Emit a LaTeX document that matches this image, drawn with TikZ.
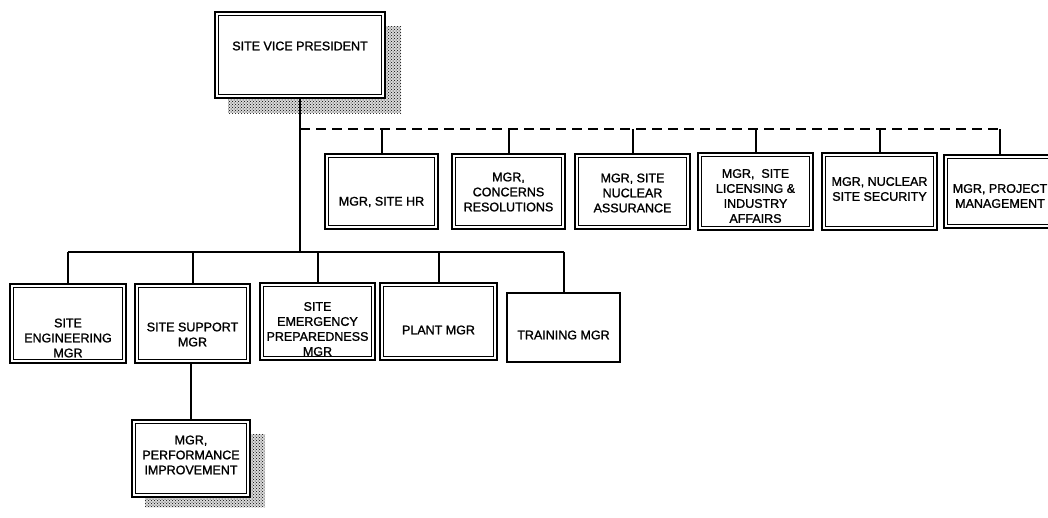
\documentclass[tikz,border=0pt]{standalone}
\usepackage{fontspec}
\setmainfont{Liberation Sans}[FakeBold=1.3]
\usetikzlibrary{patterns}
\tikzset{
  frame/.style 2 args={draw, line width=2.2pt, fill=white, shape=rectangle,
    inner sep=0pt, outer sep=0pt, minimum width=#1, minimum height=#2},
  lbl/.style={align=center, inner sep=0pt,
    font=\fontsize{12.5}{15}\selectfont},
  link/.style={line width=2pt},
  dotted link/.style={line width=2pt, dash pattern=on 10pt off 6pt},
  shade/.style={pattern=crosshatch dots, pattern color=black},
}
\begin{document}
\begin{tikzpicture}[x=1pt, y=-1pt]
\useasboundingbox (0,0) rectangle (1048,517);

% drop shadows
\fill[black!15] (228,26) rectangle (401,113);
\fill[shade] (228,26) rectangle (401,113);
\fill[black!15] (145,434) rectangle (265,507);
\fill[shade] (145,434) rectangle (265,507);

% head of the site
\node[frame={170pt}{86pt}] (vp) at (300,55) {};

% staff reporting on the dashed line
\node[frame={113pt}{75pt}] (hr)  at (381.5,191.5) {};
\node[frame={113pt}{75pt}] (cr)  at (508.5,191.5) {};
\node[frame={115pt}{75pt}] (na)  at (632.5,191.5) {};
\node[frame={115pt}{77pt}] (lic) at (755.5,191.5) {};
\node[frame={115pt}{77pt}] (sec) at (879.5,191.5) {};
\node[frame={112pt}{73pt}] (pm)  at (1000,191.5) {};

% line managers
\node[frame={116pt}{79pt}] (se) at (68,323.5) {};
\node[frame={115pt}{79pt}] (ss) at (192.5,323.5) {};
\node[frame={115pt}{77pt}] (em) at (317.5,321.5) {};
\node[frame={117pt}{77pt}] (pl) at (438.5,321.5) {};
\node[frame={113pt}{69pt}] (tr) at (563.5,327.5) {};

% under site support
\node[frame={118pt}{77pt}] (pi) at (191,458.5) {};

% inner rule of each double frame
\foreach \n in {vp,hr,cr,na,lic,sec,pm,se,ss,em,pl,pi}
  \draw[line width=0.8pt] ([shift={(3.8,3.8)}]\n.north west)
    rectangle ([shift={(-3.8,-3.8)}]\n.south east);

% titles
\node[lbl] (vp-t)  at (300,46)    {SITE VICE PRESIDENT};
\node[lbl] (hr-t)  at (381.5,202) {MGR, SITE HR};
\node[lbl] (cr-t)  at (508.5,192) {MGR,\\CONCERNS\\RESOLUTIONS};
\node[lbl] (na-t)  at (632.5,193) {MGR, SITE\\NUCLEAR\\ASSURANCE};
\node[lbl] (lic-t) at (755.5,196) {MGR,\ \ SITE\\LICENSING \&\\INDUSTRY\\AFFAIRS};
\node[lbl] (sec-t) at (879.5,189) {MGR, NUCLEAR\\SITE SECURITY};
\node[lbl] (pm-t)  at (1000,196)  {MGR, PROJECT\\MANAGEMENT};
\node[lbl] (se-t)  at (68,338)    {SITE\\ENGINEERING\\MGR};
\node[lbl] (ss-t)  at (192.5,334.5) {SITE SUPPORT\\MGR};
\node[lbl] (em-t)  at (317.5,329) {SITE\\EMERGENCY\\PREPAREDNESS\\MGR};
\node[lbl] (pl-t)  at (438.5,330) {PLANT MGR};
\node[lbl] (tr-t)  at (563.5,335) {TRAINING MGR};
\node[lbl] (pi-t)  at (191,455)   {MGR,\\PERFORMANCE\\IMPROVEMENT};

% reporting lines
\coordinate (dbus) at (300,129);
\coordinate (sbus) at (300,252);
\draw[link] (vp.south) -- (sbus);
\draw[dotted link] (dbus) -- (pm.north |- dbus);
\foreach \n in {hr,cr,na,lic,sec,pm}
  \draw[link] (\n.north) -- (\n.north |- dbus);
\draw[link] (se.north |- sbus) -- (tr.north |- sbus);
\foreach \n in {se,ss,em,pl,tr}
  \draw[link] (\n.north) -- (\n.north |- sbus);
\draw[link] (pi.north) -- (pi.north |- ss.south);
\end{tikzpicture}
\end{document}
